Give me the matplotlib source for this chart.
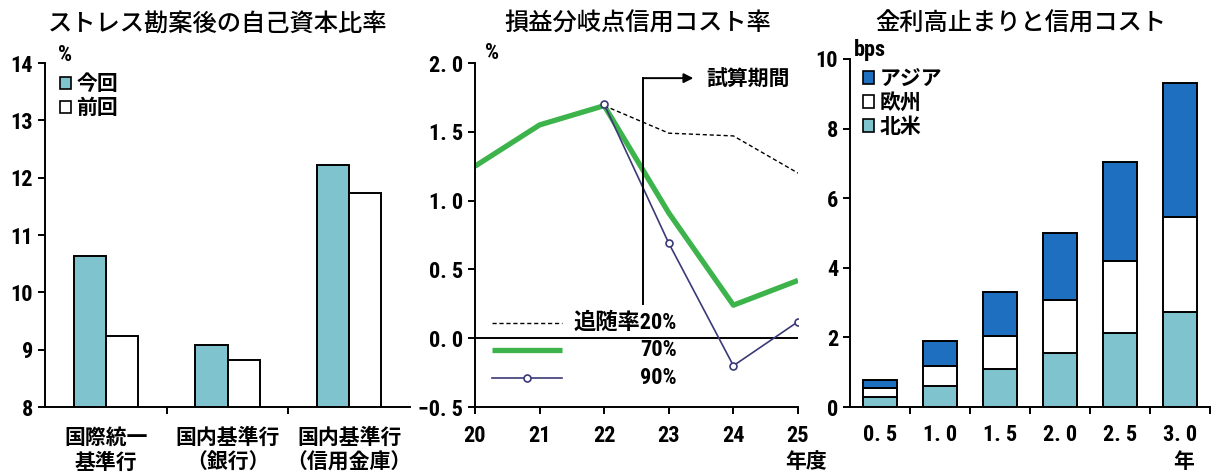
import numpy as np
import matplotlib.pyplot as plt
from matplotlib import font_manager
from matplotlib.patches import Patch

# 数字用に細めの欧文フォントを探す（無ければ Liberation Sans）
installed = {f.name for f in font_manager.fontManager.ttflist}
num_font = 'Liberation Sans'
for name in ['Liberation Sans Narrow', 'Arial Narrow', 'Roboto Condensed',
             'DejaVu Sans Condensed']:
    if name in installed:
        num_font = name
        break
NUM = [num_font, 'Noto Sans CJK JP', 'DejaVu Sans']
JP = ['Noto Sans CJK JP', 'DejaVu Sans']

plt.rcParams['font.family'] = NUM
plt.rcParams['font.weight'] = 'bold'
plt.rcParams['axes.linewidth'] = 1.4
plt.rcParams['xtick.major.width'] = 1.4
plt.rcParams['ytick.major.width'] = 1.4
plt.rcParams['xtick.minor.width'] = 1.4

# 自己資本比率（%）
banks = ['国際統一\n基準行', '国内基準行\n（銀行）', '国内基準行\n（信用金庫）']
ratio_now = [10.63, 9.08, 12.22]
ratio_prev = [9.23, 8.82, 11.73]

# 損益分岐点信用コスト率（%）
years = [20, 21, 22, 23, 24, 25]
be_70 = [1.25, 1.55, 1.69, 0.91, 0.24, 0.42]
years_sim = [22, 23, 24, 25]
be_20 = [1.69, 1.49, 1.47, 1.20]
be_90 = [1.70, 0.69, -0.20, 0.12]

# 金利高止まりと信用コスト（bps）
horizons = ['0. 5', '1. 0', '1. 5', '2. 0', '2. 5', '3. 0']
north_america = [0.28, 0.61, 1.09, 1.54, 2.12, 2.74]
europe = [0.26, 0.58, 0.96, 1.53, 2.08, 2.71]
asia = [0.24, 0.71, 1.25, 1.94, 2.85, 3.87]

TEAL = '#7fc3cf'
BLUE = '#1f6fc0'
GREEN = '#3cb44b'
PURPLE = '#3b3a78'
FS = 15
NFS = 16 if 'Narrow' in num_font or 'Condensed' in num_font else 14.5

W, H = 1212, 476
fig = plt.figure(figsize=(W / 100, H / 100), dpi=100)


def box(l, t, r, b):
    return [l / W, 1 - b / H, (r - l) / W, (b - t) / H]


def ftext(x, y, s, **kw):
    fig.text(x / W, 1 - y / H, s, **kw)


def style(ax):
    for s in ['top', 'right']:
        ax.spines[s].set_visible(False)
    ax.tick_params(direction='out', length=5, labelsize=NFS)


def title(x, s, width):
    t = ftext(x, 24, s, fontsize=17.5, fontweight='medium', family=JP,
              ha='center', va='center')
    return t


# --- 左: ストレス勘案後の自己資本比率
ax1 = fig.add_axes(box(45, 63, 410, 407))
style(ax1)
x = np.arange(len(banks))
bw = 0.265
ax1.bar(x - bw / 2, ratio_now, bw, color=TEAL, edgecolor='black', lw=1.4)
ax1.bar(x + bw / 2, ratio_prev, bw, color='white', edgecolor='black', lw=1.4)
ax1.set_ylim(8, 14)
ax1.set_xlim(-0.5, 2.5)
ax1.set_xticks(x)
ax1.set_xticklabels(banks, fontsize=FS, linespacing=1.25, family=JP)
ax1.set_xticks([0.5, 1.5], minor=True)
ax1.tick_params(axis='x', which='major', length=0, pad=14)
ax1.tick_params(axis='x', which='minor', length=5, direction='out')
ax1.legend(handles=[Patch(facecolor=TEAL, edgecolor='black', lw=1.2),
                    Patch(facecolor='white', edgecolor='black', lw=1.2)],
           labels=['今回', '前回'], loc='upper left', bbox_to_anchor=(0.04, 0.97),
           frameon=False, prop=dict(family=JP, size=FS, weight='bold'),
           handlelength=0.55, handleheight=0.55,
           handletextpad=0.25, labelspacing=0.15, borderpad=0, borderaxespad=0)
ftext(65, 55, '%', fontsize=NFS, ha='center', va='center')
title(218, 'ストレス勘案後の自己資本比率', 330)

# --- 中: 損益分岐点信用コスト率
ax2 = fig.add_axes(box(475, 63, 798, 407))
style(ax2)
ax2.axhline(0, color='black', lw=1.4)
ax2.plot(years, be_70, color=GREEN, lw=3.8, solid_capstyle='butt')
ax2.plot(years_sim, be_20, color='black', lw=1.0, ls=(0, (3, 2)))
ax2.plot(years_sim, be_90, color=PURPLE, lw=1.2, marker='o', ms=5,
         mfc='white', mec=PURPLE, mew=1.2)
ax2.set_xlim(20, 25)
ax2.set_ylim(-0.5, 2.0)
ax2.set_xticks(years)
ax2.set_xticklabels([str(y) for y in years])
ax2.tick_params(axis='x', pad=8)
yt = [-0.5, 0.0, 0.5, 1.0, 1.5, 2.0]
ax2.set_yticks(yt)
ax2.set_yticklabels([('%.1f' % v).replace('.', '. ').replace('-', '\u2212')
                     for v in yt])

# 試算期間の矢印
ax2.plot([22.6, 22.6], [0.25, 1.89], color='black', lw=1.4)
ax2.annotate('', xy=(23.38, 1.89), xytext=(22.6, 1.89),
             arrowprops=dict(arrowstyle='-|>', color='black', lw=1.4,
                             mutation_scale=14, shrinkA=0, shrinkB=0))
ax2.text(23.58, 1.88, '試算期間', fontsize=FS, family=JP, ha='left', va='center')

# 凡例（右寄せ）
leg_rows = [(0.244, '追随率20%'), (0.166, '70%'), (0.084, '90%')]
ax2.plot([0.053, 0.269], [leg_rows[0][0]] * 2, transform=ax2.transAxes,
         color='black', lw=1.0, ls=(0, (3, 2)), clip_on=False)
ax2.plot([0.053, 0.269], [leg_rows[1][0]] * 2, transform=ax2.transAxes,
         color=GREEN, lw=3.8, solid_capstyle='butt', clip_on=False)
ax2.plot([0.053, 0.269], [leg_rows[2][0]] * 2, transform=ax2.transAxes,
         color=PURPLE, lw=1.2, clip_on=False)
ax2.plot([0.161], [leg_rows[2][0]], transform=ax2.transAxes, marker='o', ms=5,
         mfc='white', mec=PURPLE, mew=1.2, clip_on=False)
for yy, lab in leg_rows:
    ax2.text(0.625, yy, lab, transform=ax2.transAxes, fontsize=NFS,
             ha='right', va='center')
ftext(492, 53, '%', fontsize=NFS, ha='center', va='center')
ftext(806, 461, '年度', fontsize=FS, family=JP, ha='center', va='center')
title(638, '損益分岐点信用コスト率', 263)

# --- 右: 金利高止まりと信用コスト
ax3 = fig.add_axes(box(850, 59, 1210, 407))
style(ax3)
xh = np.arange(len(horizons))
bw3 = 0.57
na = np.array(north_america)
eu = np.array(europe)
ax3.bar(xh, na, bw3, color=TEAL, edgecolor='black', lw=1.4)
ax3.bar(xh, eu, bw3, bottom=na, color='white', edgecolor='black', lw=1.4)
ax3.bar(xh, asia, bw3, bottom=na + eu, color=BLUE, edgecolor='black', lw=1.4)
ax3.set_ylim(0, 10)
ax3.set_xlim(-0.5, 5.5)
ax3.set_yticks([0, 2, 4, 6, 8, 10])
ax3.set_xticks(xh)
ax3.set_xticklabels(horizons)
ax3.set_xticks(xh + 0.5, minor=True)
ax3.tick_params(axis='x', which='major', length=0, pad=12)
ax3.tick_params(axis='x', which='minor', length=5, direction='out')
ax3.legend(handles=[Patch(facecolor=BLUE, edgecolor='black', lw=1.2),
                    Patch(facecolor='white', edgecolor='black', lw=1.2),
                    Patch(facecolor=TEAL, edgecolor='black', lw=1.2)],
           labels=['アジア', '欧州', '北米'], loc='upper left',
           bbox_to_anchor=(0.035, 0.975), frameon=False,
           prop=dict(family=JP, size=FS, weight='bold'),
           handlelength=0.55, handleheight=0.55, handletextpad=0.25,
           labelspacing=0.15, borderpad=0, borderaxespad=0)
ftext(870, 50, 'bps', fontsize=NFS, ha='center', va='center')
ftext(1184, 461, '年', fontsize=FS, family=JP, ha='center', va='center')
title(1021, '金利高止まりと信用コスト', 283)

fig.savefig('out.png', dpi=100)
